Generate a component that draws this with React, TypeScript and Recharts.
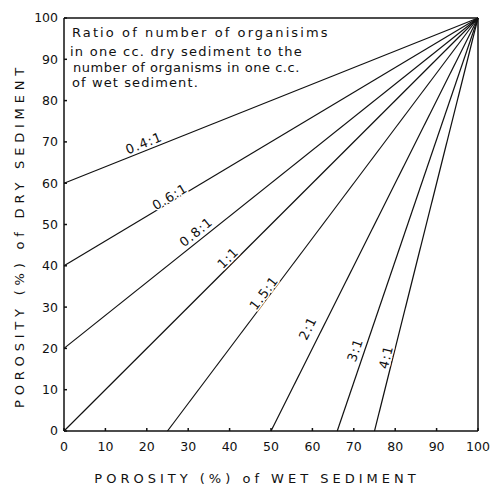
/**
 * Porosity ratio chart
 * Lines of constant organism ratio (dry vs wet sediment porosity)
 */

import { LineChart, Line, XAxis, YAxis, ReferenceLine, ReferenceDot } from "recharts"

/******************************************************************************
                              Data
******************************************************************************/

const RATIO_LABELS = ["0.4:1", "0.6:1", "0.8:1", "1:1", "1.5:1", "2:1", "3:1", "4:1"]
// start point of each ratio line (wet %, dry %), all end at (100, 100)
const START_WET = [0, 0, 0, 0, 25, 50, 66, 75]
const START_DRY = [60, 40, 20, 0, 0, 0, 0, 0]
// where each label sits (wet %, dry %)
const LABEL_WET = [19.3, 25.6, 31.9, 39.6, 48.3, 58.9, 70.3, 77.8]
const LABEL_DRY = [69.7, 56.7, 48.2, 41.9, 33.4, 24.9, 19.6, 17.9]
const TICKS = [0, 10, 20, 30, 40, 50, 60, 70, 80, 90, 100]

const NOTE_LINES = [
  "Ratio of number of organisims",
  "in one cc. dry sediment to the",
  "number of organisms in one c.c.",
  "of wet sediment.",
]

const X_TITLE = "POROSITY  (%)  of  WET  SEDIMENT"
const Y_TITLE = "POROSITY  (%)  of  DRY  SEDIMENT"

/******************************************************************************
                              Constants
******************************************************************************/

const W = 490
const H = 487
const FONT = "'DejaVu Sans', sans-serif"
const INK = "#111"

// hand lettering of the note: baseline, left edge and spacing per line
const NOTE_BASE = [37, 56, 72, 87]
const NOTE_LEFT = [72, 70, 73, 72]
const NOTE_SPACING = [2.1, 1.25, 0.55, 1.1]

/******************************************************************************
                              Components
******************************************************************************/

function RatioLabel(props: any) {
  const { cx, cy, text, angle } = props
  return (
    <text
      x={cx}
      y={cy}
      transform={`rotate(${angle} ${cx} ${cy})`}
      textAnchor="middle"
      dominantBaseline="central"
      fontFamily={FONT}
      fontSize={13}
      letterSpacing={1}
      fill={INK}
      stroke="#fff"
      strokeWidth={3}
      paintOrder="stroke"
    >
      {text}
    </text>
  )
}

function XTitle(props: any) {
  const { viewBox } = props
  const x = viewBox.x + viewBox.width / 2 - 14
  const y = viewBox.y + 47
  return (
    <text x={x} y={y} textAnchor="middle" dominantBaseline="central"
      fontFamily={FONT} fontSize={13} letterSpacing={4} fill={INK}>
      {X_TITLE}
    </text>
  )
}

function YTitle(props: any) {
  const { viewBox } = props
  const x = viewBox.x + 19
  const y = viewBox.y + viewBox.height / 2 + 11
  return (
    <text x={x} y={y} transform={`rotate(-90 ${x} ${y})`} textAnchor="middle"
      dominantBaseline="central" fontFamily={FONT} fontSize={13} letterSpacing={4.8} fill={INK}>
      {Y_TITLE}
    </text>
  )
}

export default function App() {
  const series = RATIO_LABELS.map((label, i) => ({
    label,
    data: [
      { x: START_WET[i], y: START_DRY[i] },
      { x: 100, y: 100 },
    ],
    // angle in pixel space (plot is nearly square)
    angle: (-Math.atan2(100 - START_DRY[i], 100 - START_WET[i]) * 180) / Math.PI,
  }))

  return (
    <div style={{ position: "absolute", left: 0, top: 0, width: W, height: H, background: "#fff" }}>
      <LineChart width={W} height={H} margin={{ top: 18, right: 12, left: 0, bottom: 0 }}>
        <XAxis
          type="number"
          dataKey="x"
          domain={[0, 100]}
          ticks={TICKS}
          height={56}
          tickSize={-3}
          tickMargin={14}
          tick={{ fontFamily: FONT, fontSize: 12.5, fill: INK }}
          stroke={INK}
          strokeWidth={1.5}
          label={<XTitle />}
        />
        <YAxis
          type="number"
          dataKey="y"
          domain={[0, 100]}
          ticks={TICKS}
          width={64}
          tickSize={-3}
          tickMargin={9}
          tick={{ fontFamily: FONT, fontSize: 12.5, fill: INK }}
          stroke={INK}
          strokeWidth={1.5}
          label={<YTitle />}
        />
        <ReferenceLine y={100} stroke={INK} strokeWidth={1.5} />
        <ReferenceLine x={100} stroke={INK} strokeWidth={1.5} />
        {series.map((s) => (
          <Line
            key={s.label}
            data={s.data}
            dataKey="y"
            stroke={INK}
            strokeWidth={1.2}
            dot={false}
            isAnimationActive={false}
          />
        ))}
        {series.map((s, i) => (
          <ReferenceDot
            key={`lbl-${s.label}`}
            x={LABEL_WET[i]}
            y={LABEL_DRY[i]}
            r={0}
            shape={(p: any) => <RatioLabel {...p} text={s.label} angle={s.angle} />}
          />
        ))}
      </LineChart>
      <svg
        width={W}
        height={H}
        style={{ position: "absolute", left: 0, top: 0, pointerEvents: "none" }}
      >
        {NOTE_LINES.map((line, i) => (
          <text
            key={i}
            x={NOTE_LEFT[i]}
            y={NOTE_BASE[i]}
            fontFamily={FONT}
            fontSize={13}
            letterSpacing={NOTE_SPACING[i]}
            fill={INK}
          >
            {line}
          </text>
        ))}
      </svg>
    </div>
  )
}
